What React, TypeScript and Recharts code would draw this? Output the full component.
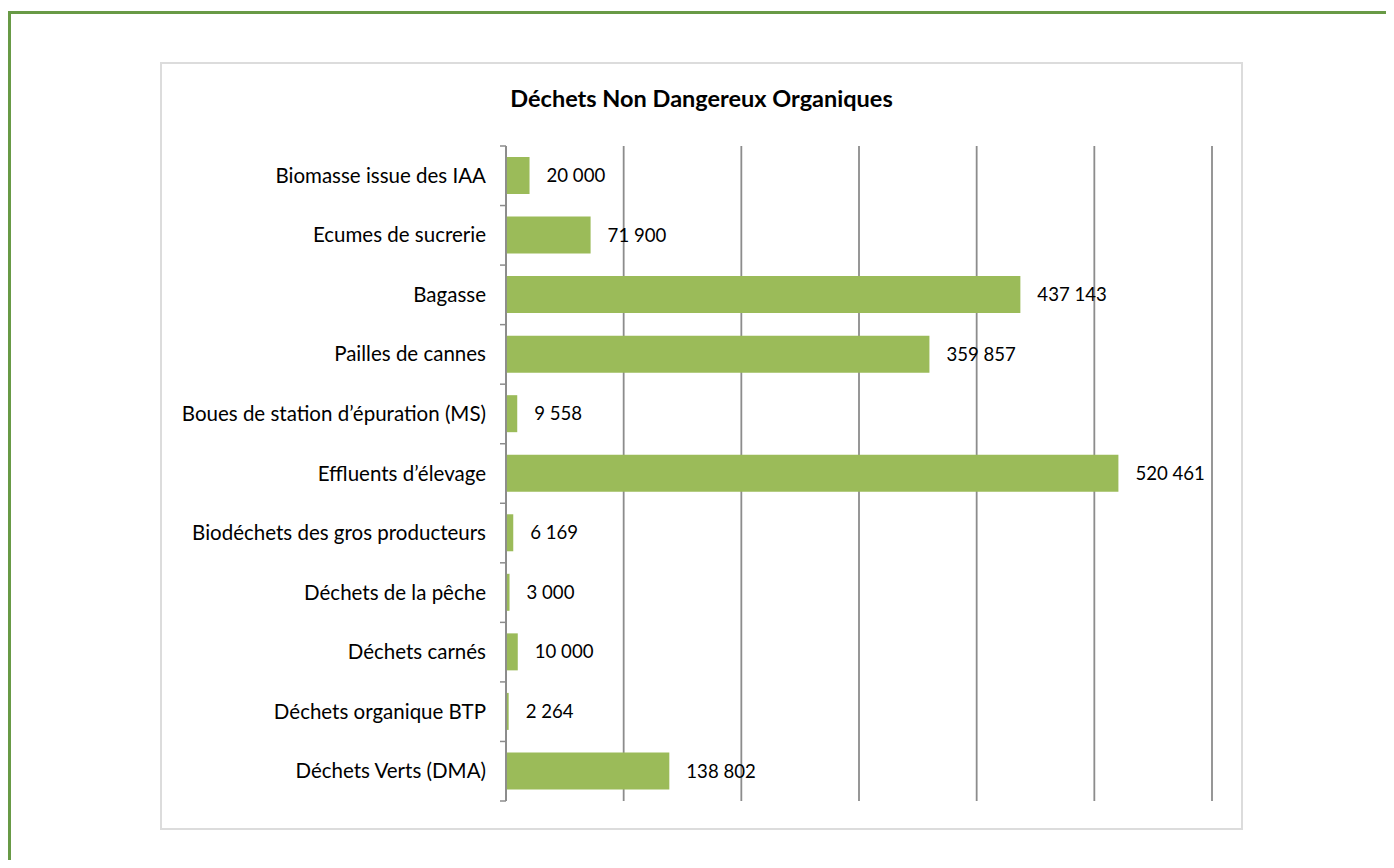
import React from 'react';
import { BarChart, Bar, XAxis, YAxis, CartesianGrid, LabelList } from 'recharts';

const categories = [
  'Biomasse issue des IAA',
  'Ecumes de sucrerie',
  'Bagasse',
  'Pailles de cannes',
  'Boues de station d\u2019épuration (MS)',
  'Effluents d\u2019élevage',
  'Biodéchets des gros producteurs',
  'Déchets de la pêche',
  'Déchets carnés',
  'Déchets organique BTP',
  'Déchets Verts (DMA)',
];
const values = [20000, 71900, 437143, 359857, 9558, 520461, 6169, 3000, 10000, 2264, 138802];
const xTicks = [0, 100000, 200000, 300000, 400000, 500000, 600000];
const title = 'Déchets Non Dangereux Organiques';

const data = categories.map((name, i) => ({ name, value: values[i] }));

const FONT = 'Lato, "Open Sans", sans-serif';
const fmt = (v: any) => String(v).replace(/\B(?=(\d{3})+(?!\d))/g, ' ');

const CategoryTick = (props: any) => {
  const { x, y, payload, index, visibleTicksCount } = props;
  const half = payload && typeof payload.offset === 'number' ? payload.offset : 0;
  const axisX = x + 20;
  return (
    <g>
      <line x1={axisX - 6} x2={axisX} y1={y - half} y2={y - half} stroke="#8c8c8c" strokeWidth={1.5} />
      {index === visibleTicksCount - 1 ? (
        <line x1={axisX - 6} x2={axisX} y1={y + half} y2={y + half} stroke="#8c8c8c" strokeWidth={1.5} />
      ) : null}
      <text x={x} y={y} dy={7} textAnchor="end" fill="#000" fontSize={20.5} fontFamily={FONT}>
        {payload.value}
      </text>
    </g>
  );
};

const EmptyTick = () => <g />;

export default function App() {
  return (
    <div style={{ position: 'relative', width: 1386, height: 852, overflow: 'hidden' }}>
      <div
        style={{
          position: 'absolute',
          left: 0,
          top: 3,
          width: 1386,
          height: 849,
          borderTop: '3px solid #689a46',
          borderLeft: '3px solid #689a46',
          boxSizing: 'border-box',
        }}
      />
      <div
        style={{
          position: 'absolute',
          left: 152,
          top: 54,
          width: 1083,
          height: 768,
          border: '2px solid #dcdcdc',
          boxSizing: 'border-box',
        }}
      />
      <div
        style={{
          position: 'absolute',
          left: 152,
          top: 76,
          width: 1083,
          textAlign: 'center',
          fontFamily: FONT,
          fontWeight: 'bold',
          fontSize: 23.5,
          color: '#000',
        }}
      >
        {title}
      </div>
      <div style={{ position: 'absolute', left: 153, top: 55 }}>
        <BarChart
          width={1081}
          height={766}
          data={data}
          layout="vertical"
          margin={{ top: 83, right: 30, bottom: 27, left: 0 }}
        >
          <CartesianGrid horizontal={false} vertical={true} stroke="#8c8c8c" strokeWidth={1.8} />
          <XAxis
            type="number"
            domain={[0, 600000]}
            ticks={xTicks}
            interval={0}
            tick={<EmptyTick />}
            axisLine={false}
            tickLine={false}
            height={1}
          />
          <YAxis
            type="category"
            dataKey="name"
            width={345}
            axisLine={{ stroke: '#8c8c8c', strokeWidth: 1.8 }}
            tickLine={false}
            tickSize={6}
            tickMargin={14}
            tick={<CategoryTick />}
            interval={0}
          />
          <Bar dataKey="value" fill="#9bbb59" barSize={37} isAnimationActive={false}>
            <LabelList
              dataKey="value"
              position="right"
              offset={17}
              formatter={fmt}
              fill="#000"
              fontSize={18.6}
              fontFamily={FONT}
            />
          </Bar>
        </BarChart>
      </div>
    </div>
  );
}
